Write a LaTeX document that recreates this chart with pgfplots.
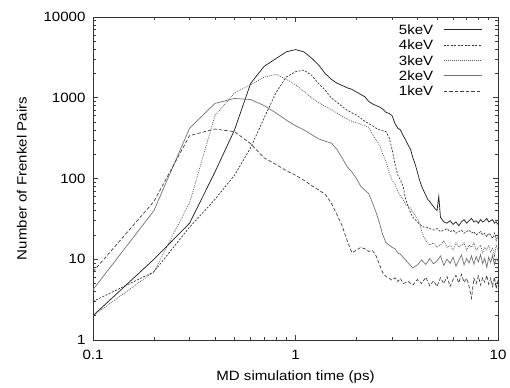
\documentclass[border=0pt]{standalone}
\usepackage{pgfplots}
\pgfplotsset{compat=1.18}
\usepackage{fontspec}
\setmainfont[FakeStretch=1.12]{Liberation Sans}
\begin{document}
\begin{tikzpicture}
\path[use as bounding box] (-93bp,-48bp) rectangle (417bp,340bp);
\begin{loglogaxis}[
  at={(0,0)}, anchor=south west,
  scale only axis, width=405bp, height=323bp,
  xmin=0.1, xmax=10, ymin=1, ymax=10000,
  xtick={0.1,1,10}, xticklabels={0.1,1,10},
  ytick={1,10,100,1000,10000}, yticklabels={1,10,100,1000,10000},
  /pgf/number format/assume math mode=true,
  tick align=inside, major tick length=5bp, minor tick length=3bp,
  every tick/.style={black!75, line width=0.6bp},
  axis line style={black!80, line width=0.8bp},
  font=\fontsize{13.5}{16}\selectfont,
  xticklabel style={yshift=-7bp},
  yticklabel style={xshift=-4bp},
  xlabel={MD simulation time (ps)},
  ylabel={Number of Frenkel Pairs},
  xlabel style={yshift=-4bp},
  ylabel style={yshift=10bp},
  legend plot pos=right,
  legend cell align=right,
  legend image code/.code={\draw[#1] (0bp,0bp) -- (38bp,0bp);},
  legend style={at={(1,1)}, anchor=north east, xshift=-16bp, yshift=-8bp,
    draw=none, fill=none, inner sep=0pt, outer sep=0pt,
    column sep=10bp, row sep=5.8bp,
    nodes={inner sep=0pt, text height=9.5bp, text depth=0pt},
    font=\fontsize{13.5}{16}\selectfont},
]
% 5keV
\addplot[black!85, line width=0.75bp] coordinates {
(0.1,2)(0.2,10)(0.3,28)(0.4,120)(0.5,400)(0.6,1500)(0.7,2450)(0.8,3050)(0.9,3700)(1.0,3950)
(1.1,3700)(1.2,3100)(1.3,2550)(1.4,2000)(1.5,1700)(1.6,1520)(1.7,1420)(1.8,1330)(1.9,1270)(2.0,1180)
(2.1,1100)(2.2,1030)(2.3,900)(2.4,840)(2.5,800)(2.6,770)(2.7,720)(2.8,660)(2.9,640)(3.0,600)
(3.1,480)(3.2,420)(3.3,400)(3.4,340)(3.5,300)(3.6,260)(3.7,230)(3.8,180)(3.9,150)(4.0,120)
(4.1,95)(4.2,80)(4.3,70)(4.4,62)(4.5,55)(4.6,52)(4.7,48)(4.8,45)(4.9,42)(5.0,40)
(5.1,60)(5.2,33)(5.4,29)(5.6,28)(5.8,30)(6.0,27)(6.2,29)(6.4,26)(6.6,29)(6.8,31)
(7.0,28)(7.2,30)(7.4,32)(7.6,29)(7.8,30)(8.0,28)(8.2,31)(8.4,29)(8.6,30)(8.8,32)
(9.0,29)(9.2,30)(9.4,31)(9.6,28)(9.8,29)(10,27)
};
\addlegendentry{5keV}
% 4keV
\addplot[black!80, line width=0.7bp, dash pattern=on 2bp off 1.5bp] coordinates {
(0.1,3)(0.2,7)(0.3,25)(0.4,55)(0.5,110)(0.6,240)(0.7,560)(0.8,1150)(0.9,1800)(1.0,2100)
(1.1,2200)(1.2,1900)(1.3,1500)(1.4,1250)(1.5,1000)(1.6,880)(1.7,780)(1.8,700)(1.9,650)(2.0,610)
(2.1,560)(2.2,510)(2.3,480)(2.4,450)(2.5,420)(2.6,400)(2.7,390)(2.8,380)(2.9,320)(3.0,230)
(3.1,150)(3.2,110)(3.3,95)(3.4,80)(3.5,55)(3.6,45)(3.7,38)(3.8,33)(3.9,31)(4.0,29)
(4.1,27)(4.2,26)(4.3,25)(4.4,25)(4.6,24)(4.8,23)(5.0,24)(5.2,22)(5.4,23)(5.6,24)
(5.8,22)(6.0,23)(6.2,21)(6.4,22)(6.6,23)(6.8,21)(7.0,22)(7.2,23)(7.4,21)(7.6,22)
(7.8,20)(8.0,21)(8.2,22)(8.4,20)(8.6,21)(8.8,19)(9.0,21)(9.2,20)(9.4,18)(9.6,21)
(9.8,17)(10,20)
};
\addlegendentry{4keV}
% 3keV
\addplot[black!65, line width=0.7bp, dash pattern=on 0.9bp off 1.1bp] coordinates {
(0.1,2)(0.2,7)(0.3,50)(0.4,600)(0.5,1150)(0.6,1450)(0.7,1800)(0.8,1950)(0.9,1700)(1.0,1450)
(1.1,1200)(1.2,1000)(1.3,870)(1.4,780)(1.5,720)(1.6,650)(1.7,590)(1.8,550)(1.9,510)(2.0,490)
(2.1,470)(2.2,450)(2.3,430)(2.4,350)(2.5,300)(2.6,260)(2.7,200)(2.8,160)(2.9,120)(3.0,95)
(3.1,85)(3.2,70)(3.3,60)(3.4,55)(3.5,48)(3.6,45)(3.7,43)(3.8,38)(3.9,35)(4.0,32)
(4.1,28)(4.2,22)(4.3,19)(4.4,17)(4.6,15)(4.8,16)(5.0,14)(5.2,15)(5.4,17)(5.6,14)
(5.8,15)(6.0,13)(6.2,16)(6.4,14)(6.6,15)(6.8,16)(7.0,13)(7.2,15)(7.4,14)(7.6,16)
(7.8,13)(8.0,14)(8.2,15)(8.4,12)(8.6,14)(8.8,13)(9.0,15)(9.2,12)(9.4,14)(9.6,11)
(9.8,15)(10,13)
};
\addlegendentry{3keV}
% 2keV
\addplot[black!55, line width=0.7bp] coordinates {
(0.1,4.2)(0.2,40)(0.3,420)(0.4,850)(0.5,980)(0.6,950)(0.7,800)(0.8,650)(0.9,530)(1.0,450)
(1.1,400)(1.2,350)(1.3,310)(1.4,290)(1.5,275)(1.6,230)(1.7,180)(1.8,140)(1.9,120)(2.0,100)
(2.1,80)(2.2,72)(2.3,65)(2.4,50)(2.5,38)(2.6,28)(2.7,20)(2.8,16)(2.9,15)(3.0,14)
(3.1,13.5)(3.2,12)(3.3,11.5)(3.4,10.5)(3.5,9.8)(3.6,9)(3.7,8.3)(3.8,7.8)(4.0,8.5)(4.2,9.8)
(4.4,8.6)(4.6,10.2)(4.8,8.8)(5.0,9.5)(5.2,11)(5.4,8.4)(5.6,10)(5.8,8.9)(6.0,10.6)(6.2,8.2)
(6.4,9.7)(6.6,11.3)(6.8,8.5)(7.0,10.2)(7.2,9)(7.4,11)(7.6,8.7)(7.8,10.8)(8.0,9.3)(8.2,11.4)
(8.4,8.8)(8.6,10.3)(8.8,7.9)(9.0,10.6)(9.2,9.1)(9.4,11.2)(9.6,8.6)(9.8,10.1)(10,9.5)
};
\addlegendentry{2keV}
% 1keV
\addplot[black!75, line width=0.7bp, dash pattern=on 3.5bp off 2bp] coordinates {
(0.1,7)(0.2,52)(0.3,340)(0.4,410)(0.5,380)(0.6,270)(0.7,180)(0.8,150)(0.9,125)(1.0,110)
(1.1,95)(1.2,82)(1.3,72)(1.4,64)(1.5,50)(1.6,36)(1.7,26)(1.8,17)(1.9,12)(2.0,13)
(2.1,14)(2.2,13.5)(2.3,12.5)(2.4,12.8)(2.5,11)(2.6,8.5)(2.7,6.8)(2.8,6.1)(2.9,5.8)(3.0,5.5)
(3.1,5.9)(3.2,5.3)(3.3,5.8)(3.4,5.0)(3.6,5.3)(3.8,4.8)(4.0,5.6)(4.2,5.0)(4.4,6.0)(4.6,4.7)
(4.8,5.4)(5.0,4.6)(5.2,5.9)(5.4,5.0)(5.6,6.1)(5.8,4.6)(6.0,5.6)(6.2,6.3)(6.4,5.1)(6.6,6.5)
(6.8,5.2)(7.0,5.8)(7.2,4.6)(7.4,3.3)(7.6,5.8)(7.8,5.0)(8.0,6.2)(8.2,4.8)(8.4,5.9)(8.6,5.2)
(8.8,6.3)(9.0,4.9)(9.2,5.8)(9.4,4.6)(9.6,6.0)(9.8,4.3)(10,5.5)
};
\addlegendentry{1keV}
\end{loglogaxis}
\end{tikzpicture}
\end{document}
